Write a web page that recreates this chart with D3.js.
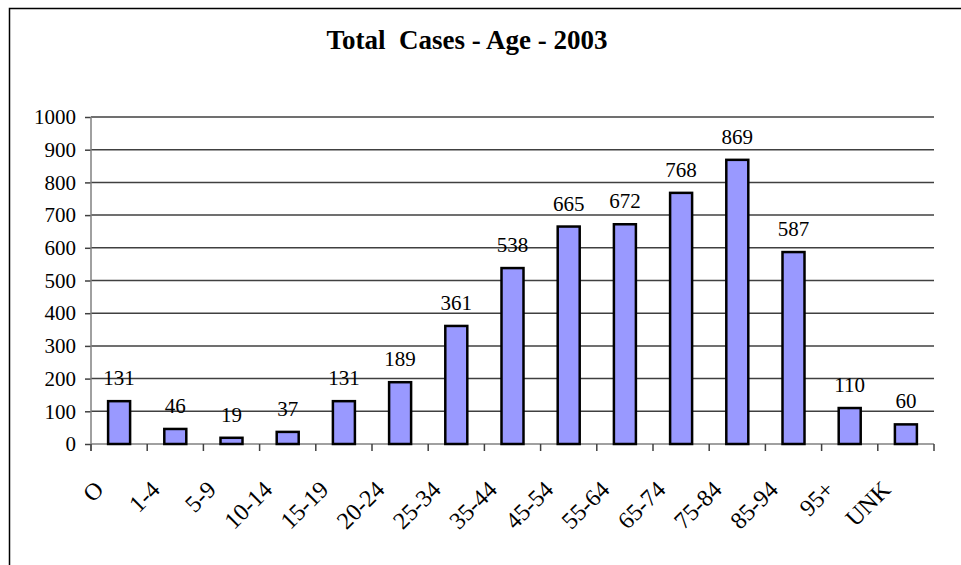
<!DOCTYPE html>
<html>
<head>
<meta charset="utf-8">
<script src="https://cdn.jsdelivr.net/npm/d3@7"></script>
</head>
<body style="margin:0; background:#fff">
<svg id="chart" width="961" height="565"></svg>
<script>
const ageGroups = ['O', '1-4', '5-9', '10-14', '15-19', '20-24', '25-34', '35-44', '45-54', '55-64', '65-74', '75-84', '85-94', '95+', 'UNK'];
const totalCases = [131, 46, 19, 37, 131, 189, 361, 538, 665, 672, 768, 869, 587, 110, 60];
const yTicks = [0, 100, 200, 300, 400, 500, 600, 700, 800, 900, 1000];
const chartTitle = 'Total\u00a0 Cases - Age - 2003';

const serif = "'Liberation Serif'";
const svg = d3.select('#chart').attr('font-family', serif);
const plotLeft = 91, plotRight = 934, plotTop = 117, plotBottom = 444;

// outer frame (right/bottom edges fall outside the picture)
svg.append('rect')
    .attr('x', 9.5).attr('y', 8.5)
    .attr('width', 1200).attr('height', 1200)
    .attr('fill', 'none')
    .attr('stroke', '#000')
    .attr('stroke-width', 1.5);

svg.append('text')
    .attr('x', 467).attr('y', 49)
    .attr('text-anchor', 'middle')
    .attr('font-family', serif)
    .attr('font-size', 27)
    .attr('font-weight', 'bold')
    .text(chartTitle);

const x = d3.scaleBand().domain(ageGroups).range([plotLeft, plotRight]).paddingInner(0).paddingOuter(0);
const y = d3.scaleLinear().domain([0, 1000]).range([plotBottom, plotTop]);

// gridlines
svg.append('g').selectAll('line')
    .data(yTicks.filter(d => d > 0))
    .join('line')
    .attr('x1', plotLeft).attr('x2', plotRight)
    .attr('y1', d => y(d)).attr('y2', d => y(d))
    .attr('stroke', '#404040')
    .attr('stroke-width', 1.5);

// y axis
const yAxis = svg.append('g')
    .attr('transform', `translate(${plotLeft},0)`)
    .call(d3.axisLeft(y).tickValues(yTicks).tickFormat(d3.format('d')).tickSize(6).tickPadding(9));
yAxis.select('.domain').remove();
yAxis.attr('font-family', serif).attr('font-size', 21);
yAxis.selectAll('.tick line').attr('stroke', '#404040').attr('stroke-width', 1.5);
yAxis.selectAll('.tick text')
    .attr('font-family', serif)
    .attr('font-size', 21)
    .attr('fill', '#000');
svg.append('line')
    .attr('x1', plotLeft).attr('x2', plotLeft)
    .attr('y1', plotTop).attr('y2', plotBottom + 7)
    .attr('stroke', '#808080').attr('stroke-width', 1.5);

// x axis line and ticks at category boundaries
svg.append('line')
    .attr('x1', plotLeft).attr('x2', plotRight)
    .attr('y1', plotBottom).attr('y2', plotBottom)
    .attr('stroke', '#808080').attr('stroke-width', 1.5);
const bounds = ageGroups.map(d => x(d) + x.bandwidth()).concat([plotLeft]);
svg.append('g').selectAll('line')
    .data(bounds)
    .join('line')
    .attr('x1', d => d).attr('x2', d => d)
    .attr('y1', plotBottom).attr('y2', plotBottom + 7)
    .attr('stroke', '#404040').attr('stroke-width', 1.5);

// bars
const barW = 22;
svg.append('g').selectAll('rect')
    .data(totalCases)
    .join('rect')
    .attr('x', (d, i) => x(ageGroups[i]) + x.bandwidth() / 2 - barW / 2)
    .attr('y', d => y(d))
    .attr('width', barW)
    .attr('height', d => plotBottom - y(d))
    .attr('fill', '#9999ff')
    .attr('stroke', '#000')
    .attr('stroke-width', 2.5);

// value labels
svg.append('g').selectAll('text')
    .data(totalCases)
    .join('text')
    .attr('x', (d, i) => x(ageGroups[i]) + x.bandwidth() / 2)
    .attr('y', d => y(d) - 16)
    .attr('text-anchor', 'middle')
    .attr('font-family', serif)
    .attr('font-size', 21)
    .text(d => d);

// rotated category labels
svg.append('g').selectAll('text')
    .data(ageGroups)
    .join('text')
    .attr('transform', d => `translate(${x(d) + x.bandwidth() / 2 - 14},${plotBottom + 47}) rotate(-45)`)
    .attr('text-anchor', 'end')
    .attr('font-family', serif)
    .attr('font-size', 24)
    .text(d => d);
</script>
</body>
</html>
